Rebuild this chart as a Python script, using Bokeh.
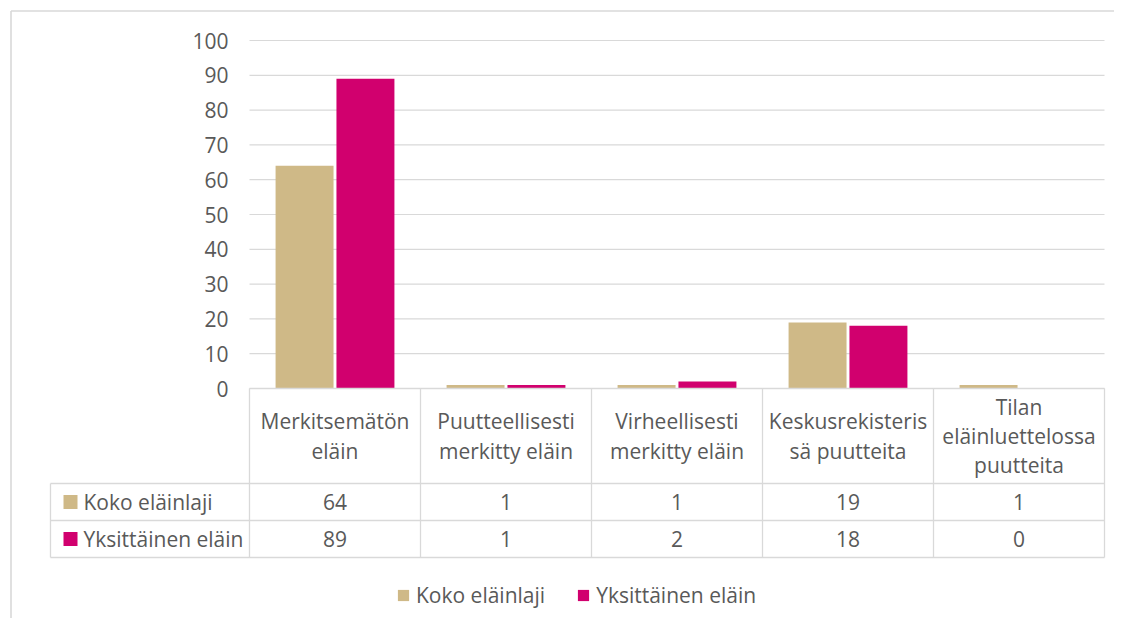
from bokeh.plotting import figure
from bokeh.models import Range1d, LinearAxis, FixedTicker, ColumnDataSource, Legend, LegendItem
from bokeh.embed import file_html
from bokeh.resources import INLINE
from bokeh.core.properties import value

# ---------------- data ----------------
categories = [
    "Merkitsemätön\neläin",
    "Puutteellisesti\nmerkitty eläin",
    "Virheellisesti\nmerkitty eläin",
    "Keskusrekisteris\nsä puutteita",
    "Tilan\neläinluettelossa\npuutteita",
]
series_names = ["Koko eläinlaji", "Yksittäinen eläin"]
koko_elainlaji = [64, 1, 1, 19, 1]
yksittainen_elain = [89, 1, 2, 18, 0]
y_ticks = [0, 10, 20, 30, 40, 50, 60, 70, 80, 90, 100]
series_colors = ["#CFB987", "#D1006E"]

# ---------------- layout (canvas pixels) ----------------
W, H = 1114, 618
X0 = 249.0      # canvas x of category-axis start
CAT = 171.0     # px per category
Y0 = 388.0      # canvas y of value 0
UNIT = 3.48     # px per value unit
HEADER_BOTTOM, ROW1_BOTTOM, ROW2_BOTTOM = 483.0, 520.0, 557.0
LABEL_COL_LEFT = 50.0

def dx(cx):
    return (cx - X0) / CAT

def dy(cy):
    return (Y0 - cy) / UNIT

FONT = value("Open Sans")
FS = "21px"
TXT = "#595959"
LINE = "#D9D9D9"

p = figure(width=W, height=H, output_backend="svg", toolbar_location=None,
           x_axis_location=None, y_axis_location=None,
           x_range=Range1d(dx(0), dx(W)), y_range=Range1d(dy(H), dy(0)),
           min_border=0, min_border_left=0, min_border_right=0,
           min_border_top=0, min_border_bottom=0)
p.outline_line_color = None
p.background_fill_color = "white"
p.border_fill_color = "white"
p.xgrid.visible = False
p.ygrid.visible = False

n = len(categories)

# outer chart border (left and top)
p.segment(x0=[dx(10.5), dx(10.5)], y0=[dy(H), dy(10.5)], x1=[dx(10.5), dx(W)], y1=[dy(10.5), dy(10.5)],
          line_color=LINE, line_width=1.6)

# gridlines
p.segment(x0=[0] * len(y_ticks), x1=[n] * len(y_ticks), y0=y_ticks, y1=y_ticks,
          line_color=LINE, line_width=1.2)

# bars
off = 0.178
bw = 0.339
src1 = ColumnDataSource(dict(x=[i + 0.5 - off for i in range(n)], top=koko_elainlaji))
src2 = ColumnDataSource(dict(x=[i + 0.5 + off for i in range(n)], top=yksittainen_elain))
r1 = p.vbar(x="x", top="top", bottom=0, width=bw, source=src1,
            fill_color=series_colors[0], line_color=None)
r2 = p.vbar(x="x", top="top", bottom=0, width=bw, source=src2,
            fill_color=series_colors[1], line_color=None)

# y axis
yax = LinearAxis(fixed_location=0, ticker=FixedTicker(ticks=y_ticks))
yax.axis_line_color = None
yax.major_tick_line_color = None
yax.minor_tick_line_color = None
yax.major_tick_out = 0
yax.major_label_standoff = 21
yax.major_label_text_font = "Open Sans"
yax.major_label_text_font_size = FS
yax.major_label_text_color = TXT
p.add_layout(yax, "left")

# data table grid
y_head = dy(HEADER_BOTTOM)
y_r1 = dy(ROW1_BOTTOM)
y_r2 = dy(ROW2_BOTTOM)
x_lab = dx(LABEL_COL_LEFT)
hx0 = [0, x_lab, x_lab, x_lab]
hx1 = [n, n, n, n]
hy = [0, y_head, y_r1, y_r2]
p.segment(x0=hx0, x1=hx1, y0=hy, y1=hy, line_color=LINE, line_width=1.3)
vx = list(range(n + 1)) + [x_lab]
vy0 = [0] * (n + 1) + [y_head]
p.segment(x0=vx, x1=vx, y0=vy0, y1=[y_r2] * (n + 2), line_color=LINE, line_width=1.3)

# header texts
p.text(x=[i + 0.5 for i in range(n)], y=[(0 + y_head) / 2] * n, text=categories,
       text_font=FONT, text_font_size=FS, text_color=TXT,
       text_align="center", text_baseline="middle", text_line_height=1.05)

# values
p.text(x=[i + 0.5 for i in range(n)], y=[(y_head + y_r1) / 2] * n,
       text=[str(v) for v in koko_elainlaji],
       text_font=FONT, text_font_size=FS, text_color=TXT,
       text_align="center", text_baseline="middle")
p.text(x=[i + 0.5 for i in range(n)], y=[(y_r1 + y_r2) / 2] * n,
       text=[str(v) for v in yksittainen_elain],
       text_font=FONT, text_font_size=FS, text_color=TXT,
       text_align="center", text_baseline="middle")

# row labels with keys
row_y = [(y_head + y_r1) / 2, (y_r1 + y_r2) / 2]
p.scatter(x=[dx(70)] * 2, y=row_y, marker="square", size=14,
          fill_color=series_colors, line_color=None)
p.text(x=[dx(83)] * 2, y=row_y, text=series_names,
       text_font=FONT, text_font_size=FS, text_color=TXT,
       text_align="left", text_baseline="middle")

# legend
legend = Legend(items=[LegendItem(label=series_names[0], renderers=[r1]),
                       LegendItem(label=series_names[1], renderers=[r2])],
                orientation="horizontal", location=(396, 9),
                glyph_width=14, glyph_height=14, label_standoff=6, spacing=31,
                padding=0, margin=0, border_line_color=None, background_fill_alpha=0,
                label_text_font="Open Sans", label_text_font_size=FS,
                label_text_color=TXT)
p.add_layout(legend)

open("out.html", "w").write(file_html(p, INLINE))
